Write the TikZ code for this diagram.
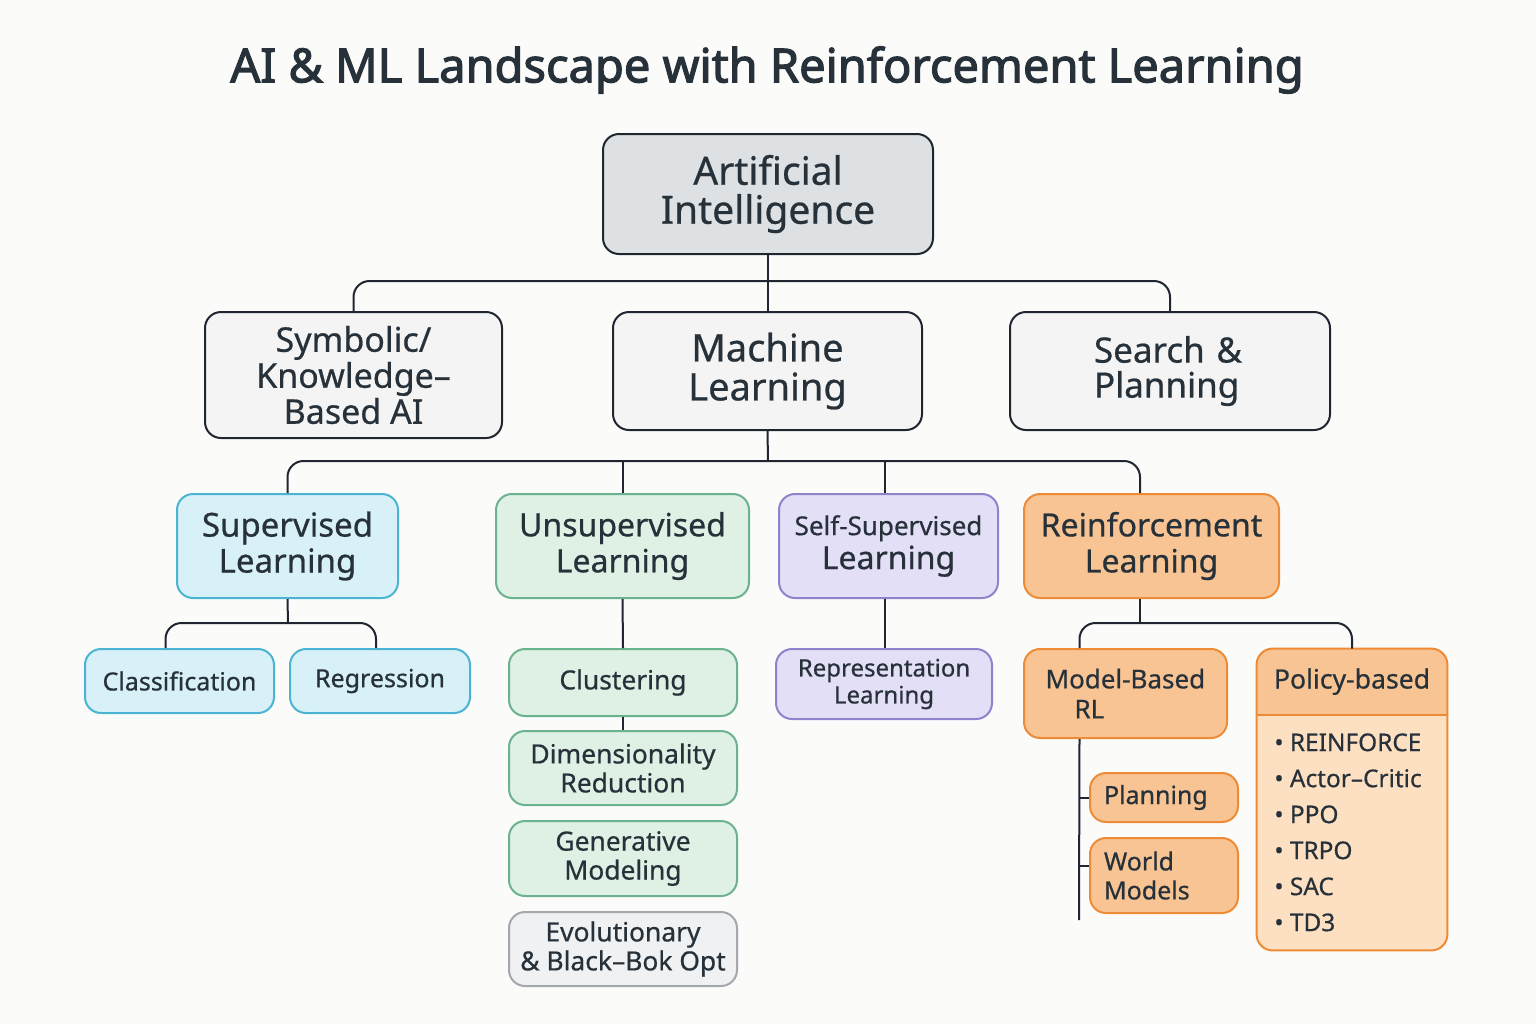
\documentclass[tikz,border=0pt]{standalone}
\usepackage{fontspec}
\setmainfont{Noto Sans}[FakeBold=0.6]
\newfontfamily\titlefont{Noto Sans}[FakeBold=2.4]
\usetikzlibrary{calc}
\definecolor{bgc}{HTML}{FBFBF9}
\definecolor{ink}{HTML}{27313A}
\definecolor{linec}{HTML}{1F2630}
\definecolor{aifill}{HTML}{DDE1E3}
\definecolor{neufill}{HTML}{F4F4F4}
\definecolor{slfill}{HTML}{D8F0F8}
\definecolor{sldraw}{HTML}{4BB4D2}
\definecolor{ulfill}{HTML}{DFF0E5}
\definecolor{uldraw}{HTML}{6BB38E}
\definecolor{ssfill}{HTML}{E3DFF6}
\definecolor{ssdraw}{HTML}{8F83CB}
\definecolor{rlfill}{HTML}{F8C494}
\definecolor{rldraw}{HTML}{EE8B36}
\definecolor{rllight}{HTML}{FDE0C2}
\definecolor{evofill}{HTML}{F0F1F2}
\definecolor{evodraw}{HTML}{A3A8AD}
\tikzset{
  box/.style={draw, line width=1pt, rounded corners=8pt, align=center, text=ink, inner sep=2pt},
  dark/.style={box, draw=linec},
  slbox/.style={box, fill=slfill, draw=sldraw},
  ulbox/.style={box, fill=ulfill, draw=uldraw},
  ssbox/.style={box, fill=ssfill, draw=ssdraw},
  rlbox/.style={box, fill=rlfill, draw=rldraw},
  conn/.style={draw=linec, line width=1pt, rounded corners=8pt},
  tier/.style={font=\fontsize{16.5}{18}\selectfont},
  leaf/.style={font=\fontsize{12.5}{14.5}\selectfont},
  uleaf/.style={font=\fontsize{13.2}{14.5}\selectfont},
}
\begin{document}
\begin{tikzpicture}[x=0.5pt,y=-0.5pt]
\fill[bgc] (0,0) rectangle (1536,1024);
\useasboundingbox (0,0) rectangle (1536,1024);

\node[text=ink, font=\titlefont\fontsize{23.5}{28}\selectfont] (title) at (767,70) {AI \& ML Landscape with Reinforcement Learning};

% top level
\node[dark, fill=aifill, minimum width=165pt, minimum height=60pt, font=\fontsize{19.5}{19.5}\selectfont] (AI) at (768,194) {Artificial\\Intelligence};
\node[dark, fill=neufill, minimum width=148.5pt, minimum height=63pt, font=\fontsize{17}{16.5}\selectfont] (Sym) at (353.5,375) {Symbolic/\\Knowledge--\\Based AI};
\node[dark, fill=neufill, minimum width=154.5pt, minimum height=59pt, font=\fontsize{19}{19.5}\selectfont] (ML) at (767.5,371) {Machine\\Learning};
\node[dark, fill=neufill, minimum width=160pt, minimum height=59pt, font=\fontsize{17.5}{17.5}\selectfont, align=left, text width=76pt] (Search) at (1170,371) {Search~\&\\Planning};

% ML tier
\node[slbox, tier, minimum width=110.5pt, minimum height=52pt] (SL) at (287.5,546) {Supervised\\Learning};
\node[ulbox, minimum width=126.5pt, minimum height=52pt, font=\fontsize{16}{18}\selectfont] (UL) at (622.5,546) {Unsupervised\\Learning};
\node[ssbox, minimum width=109.5pt, minimum height=52pt, font=\fontsize{13}{17}\selectfont] (SSL) at (888.5,546) {Self-Supervised\\{\fontsize{16}{17}\selectfont Learning}};
\node[rlbox, minimum width=127.5pt, minimum height=52pt, font=\fontsize{16}{18}\selectfont] (RL) at (1151.5,546) {Reinforcement\\Learning};

% supervised leaves
\node[slbox, leaf, minimum width=94.5pt, minimum height=32pt] (Class) at (179.5,681) {Classification};
\node[slbox, leaf, minimum width=90pt, minimum height=32pt] (Regr) at (380,681) {Regression};

% unsupervised leaves
\node[ulbox, uleaf, minimum width=114pt, minimum height=33.5pt] (Clust) at (623,682.5) {Clustering};
\node[ulbox, uleaf, minimum width=114pt, minimum height=37pt] (Dim) at (623,768) {Dimensionality\\Reduction};
\node[ulbox, uleaf, minimum width=114pt, minimum height=37.5pt] (Gen) at (623,858.5) {Generative\\Modeling};
\node[box, uleaf, fill=evofill, draw=evodraw, minimum width=114pt, minimum height=37pt] (Evo) at (623,949) {Evolutionary\\\& Black--Bok Opt};

% self-supervised leaf
\node[ssbox, minimum width=108pt, minimum height=35pt, font=\fontsize{12}{13.5}\selectfont] (Rep) at (884,684) {Representation\\Learning};

% RL leaves
\node[rlbox, align=left, text width=80pt, minimum width=101.5pt, minimum height=44.5pt, font=\fontsize{13}{15}\selectfont] (MB) at (1125.5,693.5) {Model-Based\\\hspace*{14.5pt}RL};
\node[rlbox, leaf, align=left, text width=60pt, minimum width=74pt, minimum height=24.5pt] (Plan) at (1164,797.5) {Planning};
\node[rlbox, leaf, align=left, text width=60pt, minimum width=74pt, minimum height=37.5pt] (World) at (1164,875.5) {World\\Models};

\node[fill=rllight, draw=none, rounded corners=8pt, minimum width=95pt, minimum height=150.5pt] (Policy) at (1352,799.5) {};
\coordinate (hdr) at ($(Policy.north)+(0,66)$);
\fill[rlfill] (Policy.west |- hdr) [rounded corners=8pt] -- (Policy.north west) -- (Policy.north east) [sharp corners] -- (Policy.east |- hdr) -- cycle;
\draw[draw=rldraw, line width=1pt] (Policy.west |- hdr) -- (Policy.east |- hdr);
\draw[draw=rldraw, line width=1pt, rounded corners=8pt] (Policy.north west) rectangle (Policy.south east);
\node[text=ink, font=\fontsize{13.3}{15}\selectfont] (PolHead) at ($(Policy.north)+(0,33)$) {Policy-based};
\node[text=ink, align=left, anchor=north west, font=\fontsize{12.2}{18}\selectfont, inner sep=0pt] (PolList) at (1274,733)
  {\textbullet\ REINFORCE\\\textbullet\ Actor--Critic\\\textbullet\ PPO\\\textbullet\ TRPO\\\textbullet\ SAC\\\textbullet\ TD3};

% connectors: AI level
\coordinate (b1) at (768,281);
\draw[conn] (Sym.north) |- (b1) -| (Search.north);
\draw[conn] (AI.south) -- (AI.south |- ML.north);

% ML level
\coordinate (b2) at (768,461);
\draw[conn] (SL.north) |- (b2) -| ([xshift=-5.75pt]RL.north);
\draw[conn] (ML.south) -- (b2);
\draw[conn] (UL.north) -- (UL.north |- b2);
\draw[conn] ([xshift=-1.75pt]SSL.north) -- ([xshift=-1.75pt]SSL.north |- b2);

% supervised
\coordinate (b3) at (288,623);
\draw[conn] ([xshift=-7pt]Class.north) |- (b3) -| ([xshift=-2pt]Regr.north);
\draw[conn] (SL.south) -- (b3);

% unsupervised
\draw[conn] (UL.south) -- (Clust.north);
\draw[conn] (Clust.south) -- (Dim.north);

% self-supervised
\draw[conn] ([xshift=-1.75pt]SSL.south) -- ([xshift=-1.75pt]SSL.south |- Rep.north);

% RL
\coordinate (b4) at (1140,623);
\draw[conn] ([xshift=-23pt]MB.north) |- (b4) -| (Policy.north);
\draw[conn] ([xshift=-5.75pt]RL.south) -- (b4);
\coordinate (mbend) at (1079,920);
\draw[conn] ([xshift=-23pt]MB.south) -- (mbend);
\draw[conn] (Plan.west) -- (Plan.west -| mbend);
\draw[conn] ([yshift=5pt]World.west) -- ([yshift=5pt]World.west -| mbend);
\end{tikzpicture}
\end{document}
